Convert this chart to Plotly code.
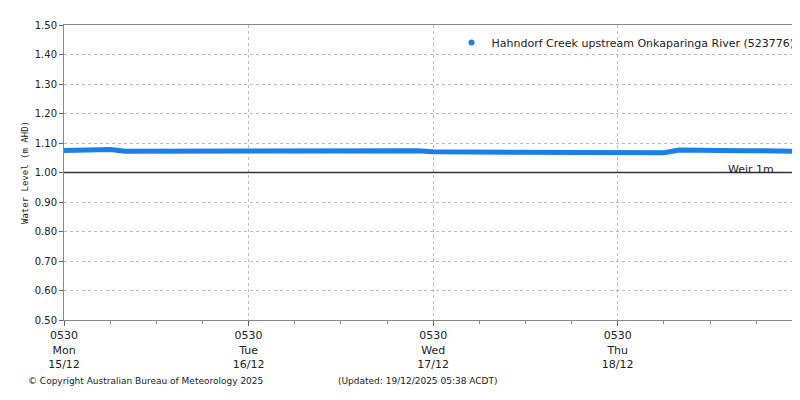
import pandas as pd
import plotly.graph_objects as go

# 2-hourly water level readings (m AHD), from Mon 15/12 05:30
levels = [1.075, 1.076, 1.080, 1.078, 1.072, 1.072, 1.072, 1.072, 1.073,
          1.075, 1.075, 1.075, 1.075, 1.075, 1.075, 1.075, 1.075, 1.075,
          1.075, 1.075, 1.075, 1.075, 1.075, 1.074, 1.070, 1.070, 1.070,
          1.070, 1.070, 1.070, 1.070, 1.070, 1.070, 1.070, 1.070, 1.070,
          1.067, 1.067, 1.067, 1.067, 1.076, 1.075, 1.072, 1.072, 1.074,
          1.074, 1.072, 1.072, 1.072]
times = pd.date_range("2025-12-15 05:30", periods=len(levels), freq="2h")

tick_vals = ["2025-12-15 05:30", "2025-12-16 05:30", "2025-12-17 05:30", "2025-12-18 05:30"]
tick_text = ["0530<br>Mon<br>15/12", "0530<br>Tue<br>16/12", "0530<br>Wed<br>17/12", "0530<br>Thu<br>18/12"]
weir = 1.0
station = "Hahndorf Creek upstream Onkaparinga River (523776)"

blue = "#1a7fe6"
fig = go.Figure()
fig.add_trace(go.Scatter(x=times, y=levels, mode="lines", line=dict(color=blue, width=5),
                         showlegend=False))
fig.add_trace(go.Scatter(x=[None], y=[None], mode="markers", marker=dict(color=blue, size=6),
                         name=station))
fig.add_hline(y=weir, line=dict(color="#333333", width=1.5))
fig.add_annotation(x=1, xref="paper", y=weir, yref="y", text="Weir 1m", showarrow=False,
                   xanchor="right", yanchor="bottom", xshift=-25, yshift=-5,
                   font=dict(size=11, color="#222"))

# footer
fig.add_annotation(x=0, y=-0.23, xref="paper", yref="paper", xshift=-38,
                   text="© Copyright Australian Bureau of Meteorology 2025",
                   showarrow=False, xanchor="left", font=dict(size=9))
fig.add_annotation(x=0, y=-0.23, xref="paper", yref="paper", xshift=272,
                   text="(Updated: 19/12/2025 05:38 ACDT)",
                   showarrow=False, xanchor="left", font=dict(size=9))

fig.update_xaxes(range=["2025-12-15 05:30", "2025-12-19 05:20"], tickvals=tick_vals,
                 ticktext=tick_text, showgrid=True, gridcolor="#bbbbbb", griddash="dot",
                 ticks="outside", ticklen=5, tickcolor="#666", automargin=False,
                 tickfont=dict(size=11),
                 minor=dict(dtick=6 * 3600 * 1000, tick0="2025-12-15 05:30", ticks="outside",
                            ticklen=3, tickcolor="#888", showgrid=False),
                 showline=True, linecolor="#888", mirror=True, zeroline=False)
fig.update_yaxes(range=[0.5, 1.5], dtick=0.1, tickformat=".2f", showgrid=True,
                 gridcolor="#bbbbbb", griddash="dot", ticks="outside", ticklen=4,
                 tickcolor="#666", showline=True, linecolor="#888", mirror=True,
                 automargin=False, tickfont=dict(size=10),
                 title=dict(text="Water Level (m AHD)", font=dict(family="DejaVu Sans Mono", size=9),
                            standoff=4))

fig.update_layout(width=800, height=400, margin=dict(l=56, r=7, t=17, b=88),
                  plot_bgcolor="white", paper_bgcolor="white",
                  font=dict(family="DejaVu Sans", size=11, color="#222"),
                  legend=dict(x=0.998, y=0.99, xanchor="right", yanchor="top",
                              bgcolor="rgba(255,255,255,0)", font=dict(size=11),
                              itemwidth=30))
fig.write_html("out.html")
